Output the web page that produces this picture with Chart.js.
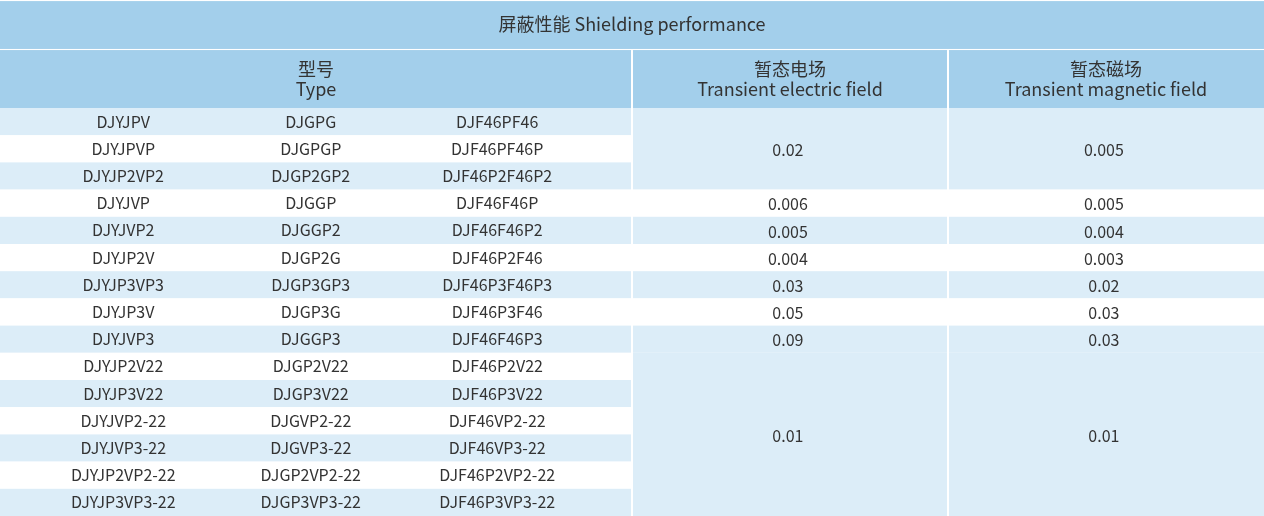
<!DOCTYPE html>
<html><head><meta charset="utf-8">
<script src="https://cdn.jsdelivr.net/npm/chart.js@4"></script>
<style>html,body{margin:0;padding:0;background:#fff}#w{width:1264px;height:516px}</style>
</head><body><div id="w"><canvas id="c"></canvas></div>
<script>
const title = "屏蔽性能 Shielding performance";
const headers = [["型号","Type"],["暂态电场","Transient electric field"],["暂态磁场","Transient magnetic field"]];
const typeCol1 = ["DJYJPV","DJYJPVP","DJYJP2VP2","DJYJVP","DJYJVP2","DJYJP2V","DJYJP3VP3","DJYJP3V","DJYJVP3","DJYJP2V22","DJYJP3V22","DJYJVP2-22","DJYJVP3-22","DJYJP2VP2-22","DJYJP3VP3-22"];
const typeCol2 = ["DJGPG","DJGPGP","DJGP2GP2","DJGGP","DJGGP2","DJGP2G","DJGP3GP3","DJGP3G","DJGGP3","DJGP2V22","DJGP3V22","DJGVP2-22","DJGVP3-22","DJGP2VP2-22","DJGP3VP3-22"];
const typeCol3 = ["DJF46PF46","DJF46PF46P","DJF46P2F46P2","DJF46F46P","DJF46F46P2","DJF46P2F46","DJF46P3F46P3","DJF46P3F46","DJF46F46P3","DJF46P2V22","DJF46P3V22","DJF46VP2-22","DJF46VP3-22","DJF46P2VP2-22","DJF46P3VP3-22"];
// groups: [startRow, rowCount, electric, magnetic]
const groups = [[0,3,"0.02","0.005"],[3,1,"0.006","0.005"],[4,1,"0.005","0.004"],[5,1,"0.004","0.003"],[6,1,"0.03","0.02"],[7,1,"0.05","0.03"],[8,1,"0.09","0.03"],[9,6,"0.01","0.01"]];
// column boundaries (x units) and text centers
const colEdges = [0,6,9,12];
const typeCenters = [1.17,2.95,4.72];
const titleRows = [0,1.8], headerRows = [1.84,3.97], dataStart = 3.97, nRows = 15;

const HDR = '#a3cfeb', BLUE = '#dcedf8', WHITE = '#ffffff', TXT = '#333333';
const FONT = '"Noto Sans CJK SC","Noto Sans",sans-serif';

const tablePlugin = {
  id:'table',
  beforeDatasetsDraw(chart){
    const {ctx, scales:{x,y}} = chart;
    const X = v=>x.getPixelForValue(v), Y = v=>y.getPixelForValue(v);
    const rect=(x0,y0,x1,y1,c)=>{ctx.fillStyle=c;ctx.fillRect(X(x0),Y(y0),X(x1)-X(x0),Y(y1)-Y(y0));};
    const text=(s,xv,yv,size)=>{ctx.font=size+'px '+FONT;ctx.fillStyle=TXT;ctx.textAlign='center';ctx.textBaseline='middle';ctx.fillText(s,X(xv),Y(yv));};
    ctx.save();
    rect(0,titleRows[0]+0.04,12,titleRows[1],HDR);
    text(title,6,(titleRows[0]+titleRows[1])/2,18);
    for(let c=0;c<3;c++){
      rect(colEdges[c],headerRows[0],colEdges[c+1],headerRows[1],HDR);
      const cx=(colEdges[c]+colEdges[c+1])/2, my=(headerRows[0]+headerRows[1])/2;
      text(headers[c][0],cx,my-0.38,18);
      text(headers[c][1],cx,my+0.38,18);
    }
    for(let r=0;r<nRows;r++){
      const y0=dataStart+r;
      rect(0,y0,6,y0+1,r%2===0?BLUE:WHITE);
      [typeCol1,typeCol2,typeCol3].forEach((col,i)=>text(col[r],typeCenters[i],y0+0.5,16));
    }
    groups.forEach(([s,n,e,m])=>{
      const y0=dataStart+s, y1=y0+n;
      const bg = n>1 ? BLUE : (s%2===0?BLUE:WHITE);
      rect(6,y0,9,y1,bg); rect(9,y0,12,y1,bg);
      text(e,7.48,(y0+y1)/2+0.04,16); text(m,10.48,(y0+y1)/2+0.04,16);
    });
    // white separators
    ctx.fillStyle=WHITE;
    [6,9].forEach(v=>ctx.fillRect(X(v)-1,Y(headerRows[0]),2,Y(dataStart+nRows)-Y(headerRows[0])));
    ctx.restore();
  }
};

new Chart(document.getElementById('c'),{
  type:'scatter',
  data:{datasets:[{data:[]}]},
  options:{
    responsive:true, maintainAspectRatio:false, animation:false,
    layout:{padding:0},
    plugins:{legend:{display:false},tooltip:{enabled:false}},
    scales:{
      x:{type:'linear',min:0,max:12,display:false},
      y:{type:'linear',min:0,max:dataStart+nRows,reverse:true,display:false}
    }
  },
  plugins:[tablePlugin]
});
</script></body></html>
